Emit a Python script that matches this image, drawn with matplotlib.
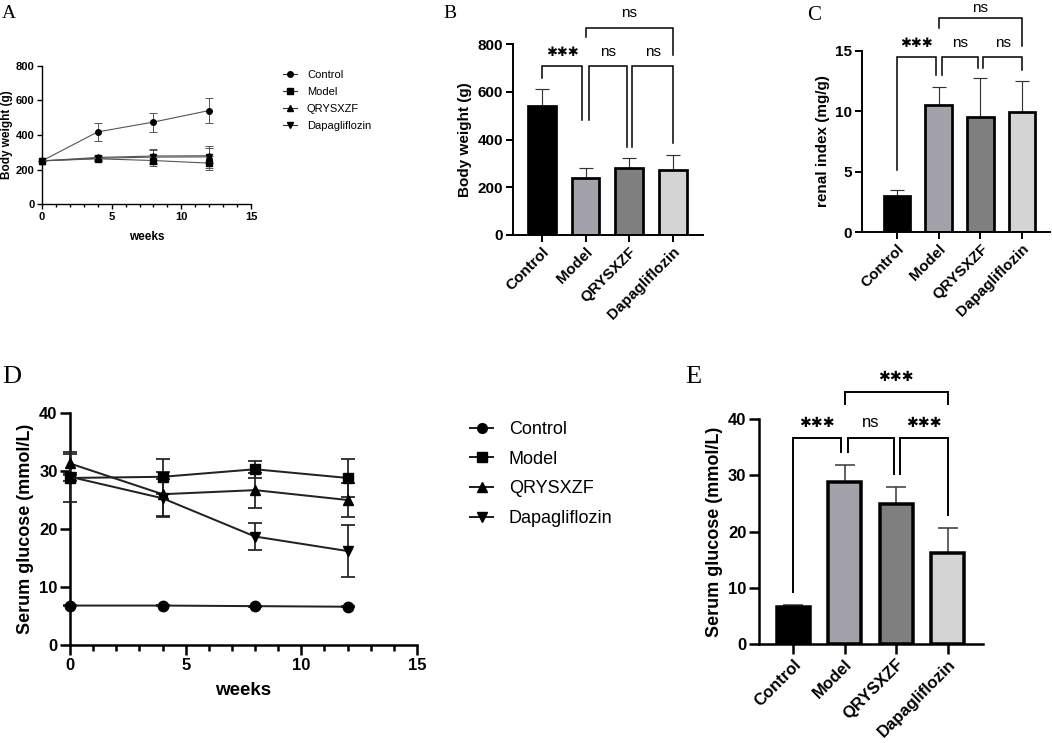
import numpy as np
import matplotlib.pyplot as plt
from matplotlib.lines import Line2D

plt.rcParams['font.family'] = ['Liberation Sans', 'DejaVu Sans']

W, H = 1052, 743

# ---- data ----
weeks = [0, 4, 8, 12]
groups = ['Control', 'Model', 'QRYSXZF', 'Dapagliflozin']
markers = ['o', 's', '^', 'v']

# A: body weight over time (g)
bw_mean = {
    'Control': [250, 418, 475, 542],
    'Model': [250, 262, 252, 237],
    'QRYSXZF': [250, 270, 278, 280],
    'Dapagliflozin': [250, 265, 272, 273],
}
bw_sd = {
    'Control': [0, 50, 55, 70],
    'Model': [0, 10, 30, 42],
    'QRYSXZF': [0, 15, 38, 42],
    'Dapagliflozin': [0, 15, 40, 62],
}

# B: final body weight (g)
bw_final = [540, 237, 280, 273]
bw_final_sd = [72, 43, 42, 62]

# C: renal index (mg/g)
renal = [3.0, 10.5, 9.55, 9.95]
renal_sd = [0.5, 1.5, 3.2, 2.55]

# D: serum glucose over time (mmol/L)
glu_mean = {
    'Control': [6.8, 6.8, 6.7, 6.6],
    'Model': [28.8, 29.0, 30.3, 28.8],
    'QRYSXZF': [31.3, 26.0, 26.7, 25.0],
    'Dapagliflozin': [29.0, 25.3, 18.7, 16.2],
}
glu_sd = {
    'Control': [0.1, 0.1, 0.1, 0.1],
    'Model': [0.5, 3.0, 1.5, 3.2],
    'QRYSXZF': [1.7, 3.8, 3.0, 3.0],
    'Dapagliflozin': [4.3, 3.3, 2.4, 4.5],
}

# E: final serum glucose (mmol/L)
glu_final = [6.5, 28.8, 24.9, 16.1]
glu_final_sd = [0.4, 3.1, 3.0, 4.6]

bar_colors = ['#000000', '#a3a2aa', '#7f7f7f', '#d4d4d4']
STAR = '\u2731'

fig = plt.figure(figsize=(W / 100, H / 100), dpi=100)


def axes_px(x0, x1, y0, y1):
    return fig.add_axes([x0 / W, 1 - y1 / H, (x1 - x0) / W, (y1 - y0) / H])


def style(ax, lw, fs, tl):
    for s in ['top', 'right']:
        ax.spines[s].set_visible(False)
    for s in ['left', 'bottom']:
        ax.spines[s].set_linewidth(lw)
    ax.tick_params(width=lw, length=tl, labelsize=fs, direction='out', pad=2)
    ax.tick_params(which='minor', width=lw, length=tl * 0.65)
    for lab in ax.get_xticklabels() + ax.get_yticklabels():
        lab.set_fontweight('bold')


def line_panel(ax, means, sds, ylim, yticks, lw, fs, ms, lc, tl):
    for g, m in zip(groups, markers):
        ax.errorbar(weeks, means[g], yerr=sds[g], marker=m, ms=ms, color=lc,
                    mfc='black', mec='black', lw=lw * 0.8, elinewidth=lw * 0.7,
                    capsize=ms * 0.7, capthick=lw * 0.7, clip_on=False, zorder=3)
    ax.set_xlim(0, 15)
    ax.set_ylim(*ylim)
    ax.set_xticks([0, 5, 10, 15])
    ax.set_xticks(range(16), minor=True)
    ax.set_yticks(yticks)
    style(ax, lw, fs, tl)


def legend_for(ax, x, y, lw, ms, lc, fs, hl, tp, ls):
    handles = [Line2D([], [], color=lc, lw=lw * 0.8, marker=m, ms=ms, mfc='black', mec='black')
               for m in markers]
    ax.legend(handles, groups, loc='upper left', bbox_to_anchor=(x / W, 1 - y / H),
              bbox_transform=fig.transFigure, frameon=False, fontsize=fs, borderpad=0,
              borderaxespad=0, handlelength=hl, handletextpad=tp, labelspacing=ls)


def bar_panel(ax, vals, sds, xlim, ylim, yticks, lw, fs, cfs, cap, tl):
    x = np.arange(len(groups))
    ax.bar(x, vals, width=0.64, color=bar_colors, edgecolor='black', linewidth=lw * 1.4, zorder=2)
    ax.errorbar(x, vals, yerr=[[0] * len(vals), sds], fmt='none', ecolor='#333333',
                elinewidth=lw * 0.6, capsize=cap, capthick=lw * 0.6, zorder=1)
    ax.set_xlim(*xlim)
    ax.set_ylim(*ylim)
    ax.set_yticks(yticks)
    ax.set_xticks(x)
    ax.set_xticklabels(groups, rotation=45, ha='right', rotation_mode='anchor', fontsize=cfs)
    style(ax, lw, fs, tl)


def bracket(ax, xa, xb, y, ha, hb, text, lw, fs, gap):
    ax.plot([xa, xa, xb, xb], [ha, y, y, hb], color='black', lw=lw, clip_on=False,
            solid_joinstyle='miter')
    if text == 'ns':
        ax.annotate('ns', ((xa + xb) / 2, y), xytext=(0, gap), textcoords='offset points',
                    ha='center', va='baseline', fontsize=fs, annotation_clip=False)
    else:
        ax.annotate(STAR * len(text), ((xa + xb) / 2, y), xytext=(0, gap), textcoords='offset points',
                    ha='center', va='baseline', fontsize=fs * 0.85, family='DejaVu Sans',
                    annotation_clip=False)


# ---- A ----
axA = axes_px(42, 251, 66, 204)
line_panel(axA, bw_mean, bw_sd, (0, 800), [0, 200, 400, 600, 800], 1.0, 8, 4, '#555555', 3.5)
axA.set_ylabel('Body weight (g)', fontsize=8.5, fontweight='bold', labelpad=2)
axA.set_xlabel('weeks', fontsize=8.5, fontweight='bold', labelpad=7)
legend_for(axA, 283, 70, 1.0, 4, '#333333', 8, 1.25, 0.9, 0.62)

# ---- B ----
axB = axes_px(513, 703, 44, 235)
bar_panel(axB, bw_final, bw_final_sd, (-0.66, 3.69), (0, 800), [0, 200, 400, 600, 800],
          1.4, 11, 10.5, 5, 5)
axB.set_ylabel('Body weight (g)', fontsize=11, fontweight='bold')
bracket(axB, 0, 0.93, 707, 657, 481, '***', 1.1, 11, 7)
bracket(axB, 1.07, 1.95, 707, 481, 368, 'ns', 1.1, 11, 7)
bracket(axB, 2.07, 3.0, 707, 368, 385, 'ns', 1.1, 11, 7)
bracket(axB, 1.0, 3.0, 866, 829, 753, 'ns', 1.1, 11, 8)

# ---- C ----
axC = axes_px(862, 1050, 51, 232)
bar_panel(axC, renal, renal_sd, (-0.84, 3.67), (0, 15), [0, 5, 10, 15], 1.4, 11, 10.5, 5, 5)
axC.set_ylabel('renal index (mg/g)', fontsize=11, fontweight='bold')
bracket(axC, 0, 0.93, 14.5, 5.1, 13.0, '***', 1.1, 11, 7)
bracket(axC, 1.07, 1.95, 14.5, 13.0, 13.6, 'ns', 1.1, 11, 7)
bracket(axC, 2.07, 3.0, 14.5, 13.6, 13.4, 'ns', 1.1, 11, 7)
bracket(axC, 1.0, 3.0, 17.7, 16.9, 15.4, 'ns', 1.1, 11, 4.5)

# ---- D ----
axD = axes_px(70, 417, 413, 645)
line_panel(axD, glu_mean, glu_sd, (0, 40), [0, 10, 20, 30, 40], 1.8, 12, 7.5, '#222222', 7)
axD.set_ylabel('Serum glucose (mmol/L)', fontsize=13, fontweight='bold')
axD.set_xlabel('weeks', fontsize=13.5, fontweight='bold', labelpad=7)
legend_for(axD, 470, 421, 1.8, 7, '#222222', 13, 1.3, 0.85, 0.7)

# ---- E ----
axE = axes_px(759, 983, 419, 644)
bar_panel(axE, glu_final, glu_final_sd, (-0.66, 3.68), (0, 40), [0, 10, 20, 30, 40],
          1.8, 12, 11, 7, 7)
axE.set_ylabel('Serum glucose (mmol/L)', fontsize=13, fontweight='bold')
bracket(axE, 0, 0.93, 36.6, 9.2, 34.2, '***', 1.4, 12, 8)
bracket(axE, 1.07, 1.95, 36.6, 34.2, 30.2, 'ns', 1.4, 12, 8)
bracket(axE, 2.07, 3.0, 36.6, 30.2, 23.0, '***', 1.4, 12, 8)
bracket(axE, 1.0, 3.0, 44.8, 42.7, 42.7, '***', 1.4, 12, 8)

# panel letters (x, baseline y, size)
letters = ['A', 'B', 'C', 'D', 'E']
letter_pos = [(2, 18, 14), (443, 18, 14), (807, 20, 15), (2, 383, 19), (685, 383, 19)]
for letter, (px, py, fs) in zip(letters, letter_pos):
    fig.text(px / W, 1 - py / H, letter, fontsize=fs, family='Liberation Serif',
             va='baseline', ha='left')

fig.savefig('out.png', dpi=100)
